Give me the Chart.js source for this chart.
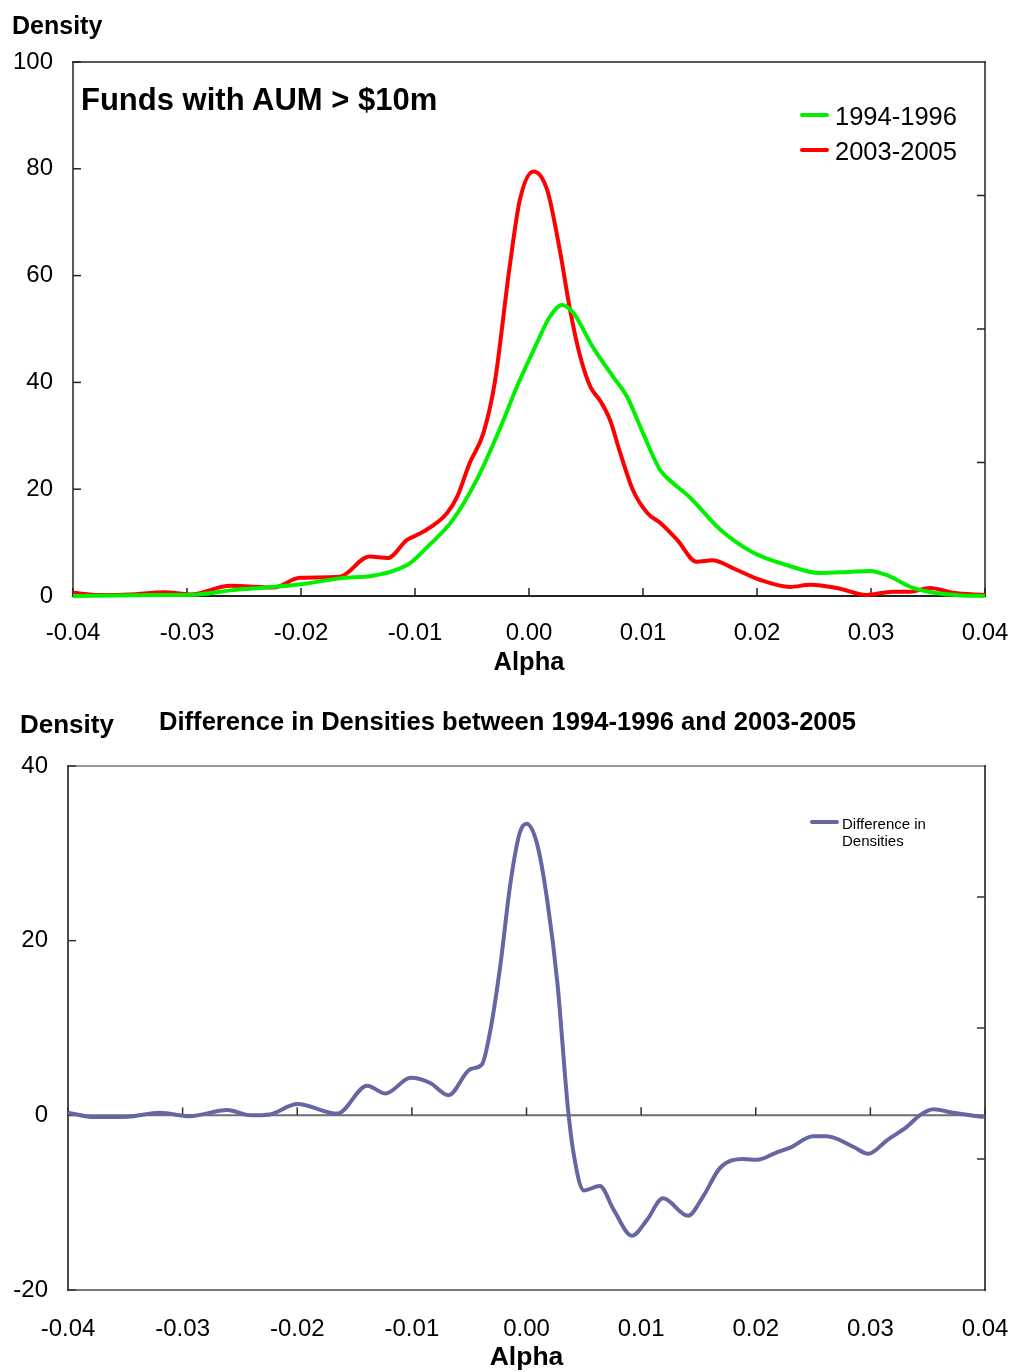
<!DOCTYPE html>
<html>
<head>
<meta charset="utf-8">
<title>Alpha densities</title>
<script src="https://cdn.jsdelivr.net/npm/chart.js@4.4.1/dist/chart.umd.min.js"></script>
<style>
  html, body { margin: 0; padding: 0; background: #fff; width: 1010px; height: 1372px; overflow: hidden;
    font-family: 'Liberation Sans', Arial, Helvetica, sans-serif; color: #000; }
  .panel { position: absolute; left: 0; width: 1010px; }
  .panel canvas { position: absolute; left: 0; top: 0; }
  .txt { position: absolute; white-space: nowrap; }
  .legend { position: absolute; }
  .legend .row { position: absolute; left: 0; white-space: nowrap; }
  .legend .swatch { position: absolute; left: 0; border-radius: 2px; }
  .legend .name { position: absolute; white-space: nowrap; }
</style>
</head>
<body>
<div class="panel" id="topPanel" style="top:0;height:690px;">
  <canvas id="topChart" width="1010" height="690"></canvas>
  <div class="txt" style="left:12px;top:10px;height:30px;line-height:30px;font-size:25px;font-weight:bold;">Density</div>
  <div class="txt" style="left:81px;top:82px;height:36px;line-height:36px;font-size:31px;font-weight:bold;">Funds with AUM &gt; $10m</div>
  <div class="legend" id="topLegend" style="left:800px;top:98px;"></div>
</div>
<div class="panel" id="bottomPanel" style="top:690px;height:700px;">
  <canvas id="bottomChart" width="1010" height="700"></canvas>
  <div class="txt" style="left:20px;top:19px;height:30px;line-height:30px;font-size:26px;font-weight:bold;">Density</div>
  <div class="txt" style="left:159px;top:16px;height:30px;line-height:30px;font-size:25.6px;font-weight:bold;">Difference in Densities between 1994-1996 and 2003-2005</div>
  <div class="legend" id="bottomLegend" style="left:810px;top:124.5px;"></div>
</div>

<script>
// ---------------- data ----------------
const alphaTicks = [-0.04, -0.03, -0.02, -0.01, 0, 0.01, 0.02, 0.03, 0.04];
const densityTicksTop = [0, 20, 40, 60, 80, 100];
const densityTicksBottom = [-20, 0, 20, 40];

const seriesNames = ['1994-1996', '2003-2005', 'Difference in Densities'];

// Kernel density of alpha, 1994-1996
const alpha9496 = [-0.040, -0.036, -0.032, -0.029, -0.026, -0.023, -0.020, -0.0166, -0.0137, -0.0119,
  -0.0104, -0.0090, -0.0067, -0.0046, -0.0025, -0.0010, 0.0007, 0.0018, 0.0029, 0.0039,
  0.0056, 0.0074, 0.0086, 0.0100, 0.0115, 0.0126, 0.0141, 0.0168, 0.0196, 0.0226,
  0.0255, 0.0280, 0.0299, 0.0314, 0.0337, 0.0358, 0.0380, 0.0400];
const density9496 = [0.0, 0.1, 0.2, 0.3, 1.1, 1.6, 2.2, 3.3, 3.8, 4.7,
  6.2, 9.0, 14.2, 21.7, 31.6, 39.5, 47.4, 52.2, 54.5, 53.0,
  46.6, 41.0, 37.3, 30.5, 23.6, 21.2, 18.5, 12.4, 8.2, 5.8,
  4.3, 4.5, 4.7, 3.9, 1.5, 0.5, 0.1, 0.0];

// Kernel density of alpha, 2003-2005
const alpha0305 = [-0.040, -0.0377, -0.035, -0.032, -0.0297, -0.0262, -0.0224, -0.0201, -0.0166, -0.0140,
  -0.0124, -0.0107, -0.0093, -0.0072, -0.0063, -0.0052, -0.0040, -0.0030, -0.0017, -0.0008,
  0.0004, 0.0016, 0.0027, 0.0036, 0.0045, 0.0054, 0.0062, 0.0071, 0.0080, 0.0091,
  0.0104, 0.0115, 0.0130, 0.0147, 0.0161, 0.0179, 0.0203, 0.0229, 0.0247, 0.0270,
  0.0296, 0.0319, 0.0334, 0.0352, 0.0372, 0.0400];
const density0305 = [0.6, 0.2, 0.3, 0.7, 0.3, 1.9, 1.6, 3.4, 3.6, 7.4,
  7.1, 10.5, 12.0, 15.5, 18.6, 24.9, 30.5, 40.0, 61.6, 74.2,
  79.5, 76.0, 64.8, 53.6, 44.8, 39.1, 36.7, 33.0, 26.8, 19.9,
  15.5, 13.7, 10.5, 6.4, 6.7, 5.2, 3.0, 1.7, 2.1, 1.5,
  0.2, 0.8, 0.8, 1.5, 0.6, 0.2];

// Difference in densities
const alphaDiff = [-0.040, -0.0377, -0.0348, -0.032, -0.0294, -0.0261, -0.0241, -0.0224, -0.0200, -0.0165,
  -0.0139, -0.0123, -0.0101, -0.0084, -0.0068, -0.0049, -0.0039, -0.0032, -0.0023, -0.0014,
  -0.0006, 0.0000, 0.0009, 0.0018, 0.0027, 0.0036, 0.0041, 0.0050, 0.0064, 0.0076,
  0.0092, 0.0105, 0.0119, 0.0141, 0.0154, 0.0169, 0.0189, 0.0201, 0.0219, 0.0230,
  0.0250, 0.0262, 0.0285, 0.0298, 0.0315, 0.0332, 0.0343, 0.0355, 0.0372, 0.0399];
const densityDiff = [0.3, -0.2, -0.15, 0.3, -0.1, 0.6, 0.0, 0.1, 1.3, 0.2,
  3.4, 2.5, 4.3, 3.7, 2.3, 5.3, 5.8, 9.4, 17.0, 26.6,
  32.3, 33.4, 31.2, 24.7, 15.1, 1.0, -4.3, -8.6, -8.1, -10.8,
  -13.8, -12.0, -9.5, -11.5, -9.3, -6.0, -5.0, -5.1, -4.2, -3.7,
  -2.4, -2.4, -3.6, -4.4, -2.8, -1.3, 0.0, 0.7, 0.3, -0.2];

// ---------------- helpers ----------------
const FONT = "'Liberation Sans', Arial, Helvetica, sans-serif";

function points(xs, ys) {
  return xs.map((x, i) => ({ x: x, y: ys[i] }));
}

function lineDataset(label, xs, ys, color) {
  return {
    label: label,
    data: points(xs, ys),
    borderColor: color,
    backgroundColor: color,
    borderWidth: 4,
    pointRadius: 0,
    cubicInterpolationMode: 'monotone',
    fill: false,
    clip: 4
  };
}

// Plot frame, inward tick marks and optional zero line
const axisFrame = {
  id: 'axisFrame',
  beforeDatasetsDraw(chart, args, o) {
    const { ctx, chartArea: a, scales: { x, y } } = chart;
    const seg = (color, w, x1, y1, x2, y2) => {
      ctx.strokeStyle = color; ctx.lineWidth = w;
      ctx.beginPath(); ctx.moveTo(x1, y1); ctx.lineTo(x2, y2); ctx.stroke();
    };
    ctx.save();
    ctx.lineCap = 'square';
    seg(o.topColor, 1.5, a.left, a.top, a.right, a.top);
    seg(o.bottomColor, 2, a.left, a.bottom, a.right, a.bottom);
    seg(o.sideColor, 1.5, a.left, a.top, a.left, a.bottom);
    seg(o.sideColor, 1.5, a.right, a.top, a.right, a.bottom);
    ctx.lineCap = 'butt';
    let base = a.bottom;
    if (o.zeroLine) {
      base = y.getPixelForValue(0);
      seg(o.zeroColor, 2, a.left, base, a.right, base);
    }
    x.ticks.forEach(t => {
      const px = x.getPixelForValue(t.value);
      seg(o.tickColor, 1.5, px, base, px, base - o.tickLen);
    });
    y.ticks.forEach(t => {
      const py = y.getPixelForValue(t.value);
      seg(o.tickColor, 1.5, a.left, py, a.left + o.tickLen, py);
    });
    for (let i = 1; i < 4; i++) {
      const py = a.top + (a.bottom - a.top) * i / 4;
      seg(o.tickColor, 1.5, a.right, py, a.right - o.tickLen, py);
    }
    ctx.restore();
  }
};

function makeOptions(cfg) {
  return {
    responsive: false,
    animation: false,
    devicePixelRatio: 1,
    events: [],
    layout: { padding: cfg.padding },
    plugins: {
      legend: { display: false },
      tooltip: { enabled: false },
      axisFrame: cfg.frame
    },
    scales: {
      x: {
        type: 'linear',
        min: alphaTicks[0],
        max: alphaTicks[alphaTicks.length - 1],
        afterBuildTicks: s => { s.ticks = alphaTicks.map(v => ({ value: v })); },
        afterFit: s => { s.height = cfg.xHeight; s.paddingLeft = 0; s.paddingRight = 0; },
        grid: { display: false, drawTicks: false },
        border: { display: false },
        ticks: {
          color: '#000',
          padding: cfg.xTickPad,
          maxRotation: 0,
          autoSkip: false,
          font: { family: FONT, size: 24 },
          callback: v => (Math.abs(v) < 1e-9 ? 0 : v).toFixed(2)
        },
        title: {
          display: true,
          text: 'Alpha',
          color: '#000',
          font: { family: FONT, size: cfg.alphaSize, weight: 'bold' },
          padding: { top: 0, bottom: cfg.alphaPad }
        }
      },
      y: {
        type: 'linear',
        min: cfg.yTicks[0],
        max: cfg.yTicks[cfg.yTicks.length - 1],
        afterBuildTicks: s => { s.ticks = cfg.yTicks.map(v => ({ value: v })); },
        afterFit: s => { s.width = cfg.yWidth; s.paddingTop = 0; s.paddingBottom = 0; },
        grid: { display: false, drawTicks: false },
        border: { display: false },
        ticks: {
          color: '#000',
          padding: 20,
          autoSkip: false,
          font: { family: FONT, size: 24 },
          callback: v => String(v)
        }
      }
    }
  };
}

function buildLegend(el, chart, opt) {
  chart.data.datasets.forEach((ds, i) => {
    const row = document.createElement('div');
    row.className = 'row';
    row.style.top = (i * opt.rowGap) + 'px';
    const sw = document.createElement('div');
    sw.className = 'swatch';
    sw.style.width = opt.swatchW + 'px';
    sw.style.height = '4px';
    sw.style.top = (opt.lineY - 2) + 'px';
    sw.style.background = ds.borderColor;
    const nm = document.createElement('div');
    nm.className = 'name';
    nm.style.left = opt.textX + 'px';
    nm.style.top = '0px';
    nm.style.fontSize = opt.fontSize + 'px';
    nm.style.lineHeight = opt.lineHeight + 'px';
    if (opt.wrapWidth) { nm.style.whiteSpace = 'normal'; nm.style.width = opt.wrapWidth + 'px'; }
    nm.textContent = ds.label;
    row.appendChild(sw);
    row.appendChild(nm);
    el.appendChild(row);
  });
}

// ---------------- top chart: the two densities ----------------
const topChart = new Chart(document.getElementById('topChart'), {
  type: 'line',
  data: {
    datasets: [
      lineDataset(seriesNames[0], alpha9496, density9496, '#00F000'),
      lineDataset(seriesNames[1], alpha0305, density0305, '#FF0000')
    ]
  },
  options: makeOptions({
    padding: { left: 0, right: 25, top: 62, bottom: 0 },
    yWidth: 73,
    xHeight: 94,
    xTickPad: 23,
    alphaSize: 25.5,
    alphaPad: 12,
    yTicks: densityTicksTop,
    frame: { topColor: '#222', bottomColor: '#222', sideColor: '#222', tickColor: '#222', tickLen: 8, zeroLine: false }
  }),
  plugins: [axisFrame]
});
buildLegend(document.getElementById('topLegend'), topChart,
  { rowGap: 35, swatchW: 29, lineY: 17, textX: 35, fontSize: 25.5, lineHeight: 36 });

// ---------------- bottom chart: difference ----------------
const bottomChart = new Chart(document.getElementById('bottomChart'), {
  type: 'line',
  data: {
    datasets: [
      lineDataset(seriesNames[2], alphaDiff, densityDiff, '#6666A3')
    ]
  },
  options: makeOptions({
    padding: { left: 0, right: 25, top: 76, bottom: 0 },
    yWidth: 68,
    xHeight: 100,
    xTickPad: 25,
    alphaSize: 26.5,
    alphaPad: 16,
    yTicks: densityTicksBottom,
    frame: { topColor: '#777', bottomColor: '#777', sideColor: '#111', tickColor: '#333', tickLen: 8, zeroLine: true, zeroColor: '#6e6e6e' }
  }),
  plugins: [axisFrame]
});
buildLegend(document.getElementById('bottomLegend'), bottomChart,
  { rowGap: 20, swatchW: 29, lineY: 7.5, textX: 32, fontSize: 15, lineHeight: 17, wrapWidth: 100 });
</script>
</body>
</html>
